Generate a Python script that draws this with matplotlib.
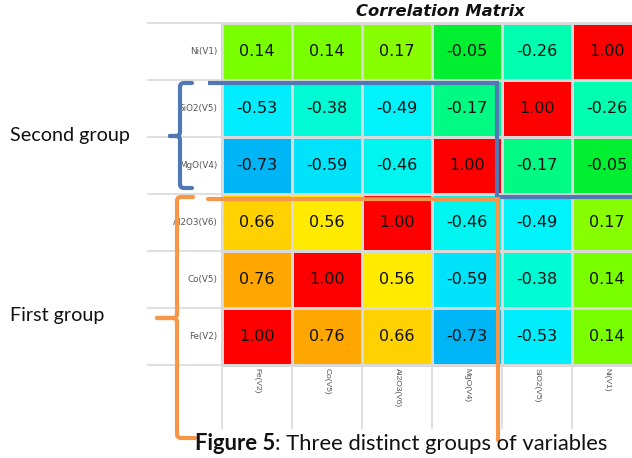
import numpy as np
import matplotlib
matplotlib.use("Agg")
import matplotlib.pyplot as plt
import matplotlib.transforms as mtrans
from matplotlib.colors import LinearSegmentedColormap
from matplotlib.path import Path
from matplotlib.patches import PathPatch

# ---------------- data ----------------
row_labels = ["Ni(V1)", "SiO2(V5)", "MgO(V4)", "Al2O3(V6)", "Co(V5)", "Fe(V2)"]
col_labels = ["Fe(V2)", "Co(V5)", "Al2O3(V6)", "MgO(V4)", "SiO2(V5)", "Ni(V1)"]
ni_row    = [0.14, 0.14, 0.17, -0.05, -0.26, 1.00]
sio2_row  = [-0.53, -0.38, -0.49, -0.17, 1.00, -0.26]
mgo_row   = [-0.73, -0.59, -0.46, 1.00, -0.17, -0.05]
al2o3_row = [0.66, 0.56, 1.00, -0.46, -0.49, 0.17]
co_row    = [0.76, 1.00, 0.56, -0.59, -0.38, 0.14]
fe_row    = [1.00, 0.76, 0.66, -0.73, -0.53, 0.14]
title = "Correlation Matrix"
group_labels = ["Second group", "First group"]
caption_bold = "Figure 5"
caption_rest = ": Three distinct groups of variables"

corr = np.array([ni_row, sio2_row, mgo_row, al2o3_row, co_row, fe_row])

# ---------------- colormap ----------------
anchors = [(-1.0, "#0060FF"), (-0.73, "#00B6F6"), (-0.59, "#00E4FA"),
           (-0.5, "#00F2FF"), (-0.38, "#00FAD4"), (-0.26, "#00FFB0"),
           (-0.17, "#00FA84"), (-0.05, "#00F030"), (0.14, "#7CFF00"),
           (0.17, "#88FF00"), (0.56, "#FFEA00"), (0.66, "#FFD200"),
           (0.76, "#FFAA00"), (1.0, "#FF0000")]
cmap = LinearSegmentedColormap.from_list(
    "corr", [((v + 1) / 2, c) for v, c in anchors])

W, H = 632, 458
fig = plt.figure(figsize=(W / 100, H / 100), dpi=100)
fig.patch.set_facecolor("white")

cell_w, cell_h = 70.0, 57.0
x_left, y_top = 148.0, 23.0
lab_w = 74.0 / cell_w
extra_h = 63.0 / cell_h
ax_w = (lab_w + 6) * cell_w
ax_h = (6 + extra_h) * cell_h
ax = fig.add_axes([x_left / W, (H - y_top - ax_h) / H, ax_w / W, ax_h / H])
ax.set_xlim(-lab_w, 6)
ax.set_ylim(6 + extra_h, 0)
ax.axis("off")

grid_c = "#d9d9d9"
ax.pcolormesh(np.arange(7), np.arange(7), corr, cmap=cmap, vmin=-1, vmax=1,
              edgecolors=grid_c, linewidth=1.0, zorder=1)
for y in range(7):
    ax.plot([-lab_w, 6], [y, y], color=grid_c, lw=1.2, zorder=2, clip_on=False)
for x in range(7):
    ax.plot([x, x], [0, 6 + extra_h], color=grid_c, lw=1.2, zorder=2, clip_on=False)

cell_font = "DejaVu Sans"
for j in range(corr.shape[0]):
    for i in range(corr.shape[1]):
        ax.text(i + 0.5, j + 0.5, f"{corr[j, i]:.2f}", ha="center", va="center",
                fontsize=11.5, family=cell_font, color="#111111", zorder=3)

for j, lab in enumerate(row_labels):
    ax.text(-0.06, j + 0.5, lab, ha="right", va="center", fontsize=6.3,
            family="DejaVu Sans", color="#555555", zorder=3)
for i, lab in enumerate(col_labels):
    ax.text(i + 0.5, 6.05, lab, ha="center", va="top", rotation=270,
            fontsize=6, family="Liberation Sans", color="#555555", zorder=3)

fig.text(440 / W, 1 - 12 / H, title, ha="center", va="center", fontsize=11.8,
         family="DejaVu Sans", fontweight="bold", fontstyle="oblique",
         color="#111111")

# ---------------- overlay annotations ----------------
ov = fig.add_axes([0, 0, 1, 1], zorder=5)
ov.set_xlim(0, W)
ov.set_ylim(H, 0)
ov.axis("off")

BLUE = "#4F78B4"
ORANGE = "#F79646"
LW = 3.0


def brace(xv, top, bottom, tip_y, tip_x, serif_top, serif_bot, color, r=4):
    verts = [(serif_top, top), (xv + r, top), (xv, top), (xv, top + r),
             (xv, tip_y - r), (xv, tip_y), (xv - r, tip_y), (tip_x, tip_y),
             (xv - r, tip_y), (xv, tip_y), (xv, tip_y + r),
             (xv, bottom - r), (xv, bottom), (xv + r, bottom), (serif_bot, bottom)]
    codes = [Path.MOVETO, Path.LINETO, Path.CURVE3, Path.CURVE3,
             Path.LINETO, Path.CURVE3, Path.CURVE3, Path.LINETO,
             Path.LINETO, Path.CURVE3, Path.CURVE3,
             Path.LINETO, Path.CURVE3, Path.CURVE3, Path.LINETO]
    ov.add_patch(PathPatch(Path(verts, codes), facecolor="none", edgecolor=color,
                           lw=LW, capstyle="round", joinstyle="round"))


brace(180, 83, 188, 136, 170, 192, 192, BLUE)
brace(177, 197, 438, 318, 157, 193, 195, ORANGE)

ov.plot([208, 497, 497, W + 5], [83, 83, 197, 197], color=BLUE, lw=LW,
        solid_capstyle="butt", solid_joinstyle="miter", clip_on=False)
ov.plot([208, 498, 498], [198.5, 198.5, 440], color=ORANGE, lw=LW,
        solid_capstyle="round", solid_joinstyle="miter")

ann_font = ["Lato", "DejaVu Sans"]
ov.text(10, 136, group_labels[0], ha="left", va="center", fontsize=14.2,
        family=ann_font, color="#111111")
ov.text(10, 315, group_labels[1], ha="left", va="center", fontsize=14.2,
        family=ann_font, color="#111111")

t1 = ov.text(195, 444, caption_bold, ha="left", va="center", fontsize=15.8,
             family=ann_font, fontweight="bold", color="#111111")
fig.canvas.draw()
bb = t1.get_window_extent(renderer=fig.canvas.get_renderer())
ov.text(bb.x1, 444, caption_rest, ha="left", va="center", fontsize=15.8,
        family=ann_font, color="#111111",
        transform=mtrans.blended_transform_factory(
            mtrans.IdentityTransform(), ov.transData))

fig.savefig("out.png", dpi=100, facecolor="white")
